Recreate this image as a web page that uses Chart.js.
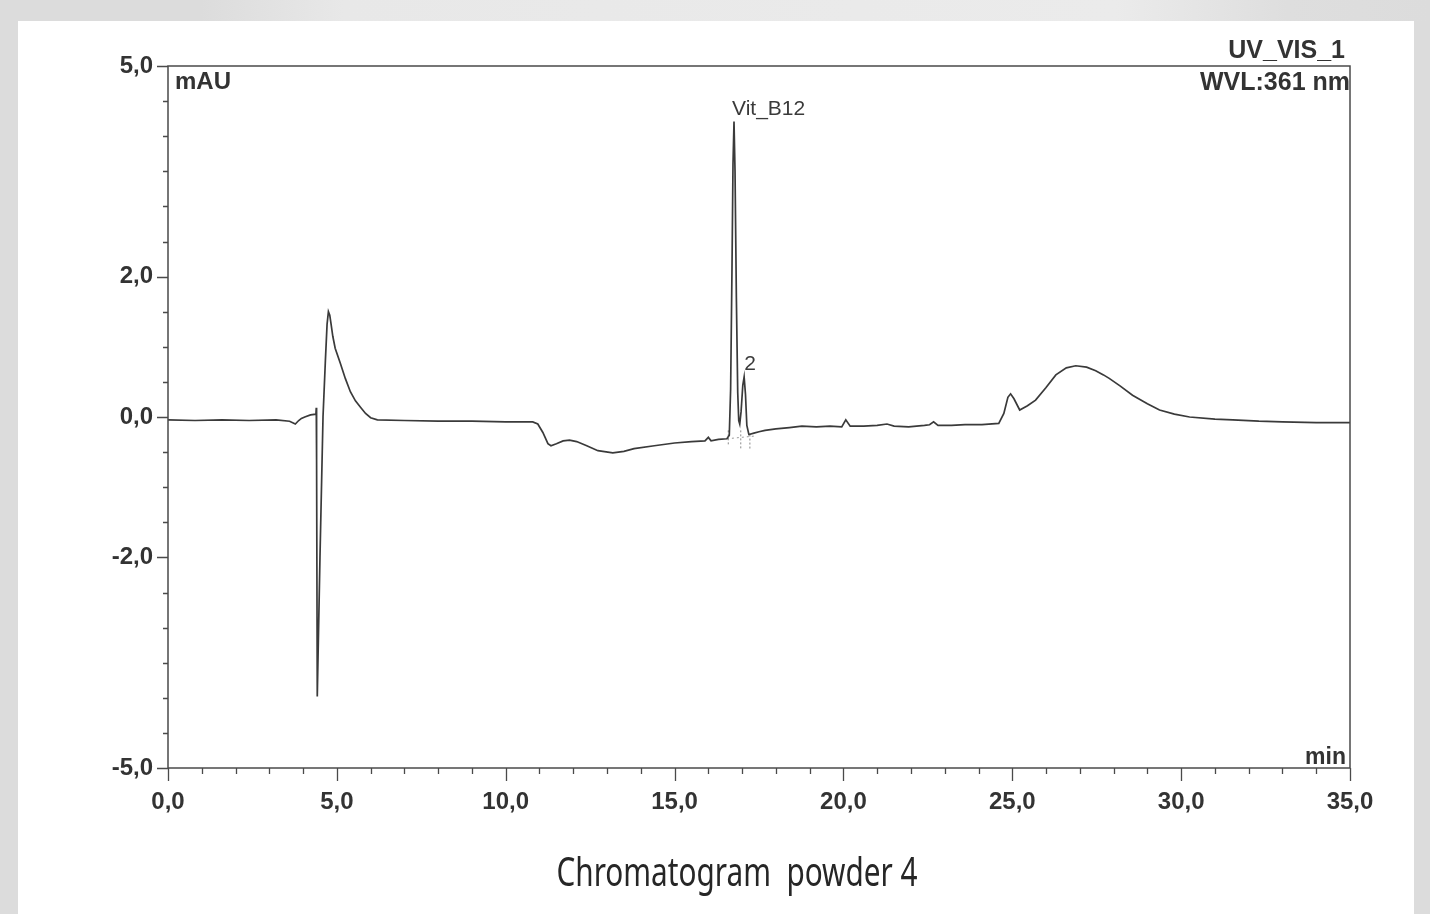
<!DOCTYPE html>
<html>
<head>
<meta charset="utf-8">
<title>Chromatogram powder 4</title>
<script src="https://cdn.jsdelivr.net/npm/chart.js@4.4.1/dist/chart.umd.min.js"></script>
<style>
  html, body { margin: 0; padding: 0; }
  body { width: 1430px; height: 914px; background: #dcdcdc; position: relative; overflow: hidden; }
  #topShade {
    position: absolute; left: 0; top: 0; width: 1430px; height: 21px;
    background: linear-gradient(to right, #dcdcdc 0%, #dcdcdc 14%, #e8e8e8 24%, #ebebeb 78%, #dedede 90%, #dcdcdc 100%);
  }
  #paper { position: absolute; left: 18px; top: 21px; width: 1396px; height: 893px; background: #fff; }
  #wrap { position: absolute; left: 0; top: 0; width: 1430px; height: 914px; }
</style>
</head>
<body>
<div id="topShade"></div>
<div id="paper"></div>
<div id="wrap"><canvas id="chromChart"></canvas></div>
<script>
document.addEventListener('DOMContentLoaded', () => {
    // retention time (min) and signal (mAU)
    const times = [
        0.0, 0.8, 1.6, 2.4, 3.2, 3.6, 3.77, 3.87, 3.95, 4.05, 4.22, 4.38, 4.39, 4.40, 4.42, 4.50,
        4.59, 4.66, 4.71, 4.75, 4.79, 4.83, 4.88, 4.95, 5.1, 5.25, 5.4, 5.55, 5.7, 5.85, 6.0, 6.2, 7.0,
        8.0, 9.0, 10.0, 10.8, 10.95, 11.1, 11.25, 11.34, 11.5, 11.7, 11.89, 12.1, 12.4, 12.73, 13.17, 13.5,
        13.8, 14.4, 15.0, 15.5, 15.9, 16.0, 16.08, 16.3, 16.55, 16.62, 16.66, 16.70, 16.73, 16.76, 16.79, 16.83,
        16.87, 16.90, 16.93, 16.97, 17.02, 17.06, 17.10, 17.14, 17.20, 17.35, 17.5, 17.68, 18.0, 18.4, 18.77, 19.2,
        19.6, 19.95, 20.07, 20.2, 20.6, 21.0, 21.29, 21.5, 21.93, 22.4, 22.55, 22.67, 22.8, 23.2, 23.6, 24.1,
        24.6, 24.75, 24.87, 24.95, 25.05, 25.22, 25.45, 25.69, 26.0, 26.29, 26.6, 26.88, 27.2, 27.47, 27.7, 27.87,
        28.2, 28.56, 29.0, 29.36, 29.8, 30.25, 31.0, 31.53, 32.3, 33.0, 34.0, 35.0
    ];
    const signal = [
        -0.04, -0.05, -0.04, -0.05, -0.04, -0.06, -0.10, -0.05, -0.02, 0.00, 0.03, 0.04, 0.13, -0.60, -3.98, -2.00,
        0.00, 0.80, 1.32, 1.50, 1.45, 1.32, 1.15, 0.98, 0.77, 0.55, 0.36, 0.23, 0.14, 0.05, -0.01, -0.04, -0.05,
        -0.06, -0.06, -0.07, -0.07, -0.10, -0.22, -0.38, -0.41, -0.38, -0.34, -0.33, -0.35, -0.41, -0.48, -0.51, -0.49,
        -0.45, -0.41, -0.37, -0.35, -0.34, -0.29, -0.34, -0.32, -0.31, -0.26, 0.40, 2.10, 3.60, 4.21, 3.50, 1.70,
        0.35, -0.05, -0.10, 0.08, 0.45, 0.57, 0.32, -0.12, -0.25, -0.23, -0.21, -0.19, -0.17, -0.15, -0.13, -0.14,
        -0.13, -0.14, -0.04, -0.13, -0.13, -0.12, -0.10, -0.13, -0.14, -0.12, -0.11, -0.07, -0.12, -0.12, -0.11, -0.11,
        -0.09, 0.05, 0.28, 0.33, 0.26, 0.10, 0.16, 0.24, 0.42, 0.60, 0.70, 0.73, 0.71, 0.66, 0.60, 0.55,
        0.44, 0.31, 0.19, 0.10, 0.04, 0.00, -0.03, -0.04, -0.06, -0.07, -0.08, -0.08
    ];

    // peak integration delimiters
    const markerTimes = [16.59, 16.96, 17.23];
    const markerTop = [-0.19, -0.19, -0.25];
    const markerBottom = [-0.40, -0.47, -0.45];
    const baselineTimes = [16.55, 17.40];
    const baselineValues = [-0.31, -0.27];

    const peakNames = ['Vit_B12', '2'];
    const peakTimes = [16.76, 17.06];
    const peakHeights = [4.21, 0.57];

    const yLabelValues = [5, 2, 0, -2, -5];
    const xMin = 0, xMax = 35, yMin = -5, yMax = 5;

    const fmt = v => v.toFixed(1).replace('.', ',');
    const INK = '#3a3a3a';
    const TICK_FONT = { family: '"Liberation Sans", Arial, sans-serif', size: 24, weight: 'bold' };

    const datasets = [{
        label: 'UV_VIS_1',
        data: times.map((t, i) => ({ x: t, y: signal[i] })),
        borderColor: INK,
        borderWidth: 1.7,
        pointRadius: 0,
        tension: 0
    }];
    markerTimes.forEach((t, i) => {
        datasets.push({
            label: 'delimiter ' + (i + 1),
            data: [{ x: t, y: markerTop[i] }, { x: t, y: markerBottom[i] }],
            borderColor: '#8a8a8a',
            borderWidth: 1,
            borderDash: [2, 2],
            pointRadius: 0
        });
    });
    datasets.push({
        label: 'baseline',
        data: baselineTimes.map((t, i) => ({ x: t, y: baselineValues[i] })),
        borderColor: '#9a9a9a',
        borderWidth: 1,
        borderDash: [2, 3],
        pointRadius: 0
    });

    const chromDecor = {
        id: 'chromDecor',
        afterDraw(chart) {
            const { ctx, chartArea: a, scales: { x, y } } = chart;
            ctx.save();
            ctx.strokeStyle = '#4a4a4a';
            ctx.lineWidth = 1.5;
            ctx.strokeRect(a.left, a.top, a.right - a.left, a.bottom - a.top);

            ctx.lineWidth = 1.3;
            ctx.beginPath();
            x.ticks.forEach(t => {
                const px = Math.round(x.getPixelForValue(t.value)) + 0.5;
                const len = t.value % 5 === 0 ? 13 : 6;
                ctx.moveTo(px, a.bottom);
                ctx.lineTo(px, a.bottom + len);
            });
            y.ticks.forEach(t => {
                const py = Math.round(y.getPixelForValue(t.value)) + 0.5;
                const len = yLabelValues.includes(t.value) ? 11 : 5;
                ctx.moveTo(a.left, py);
                ctx.lineTo(a.left - len, py);
            });
            ctx.stroke();

            ctx.fillStyle = '#333';
            ctx.font = 'bold 24px "Liberation Sans", Arial, sans-serif';
            ctx.textBaseline = 'middle';
            ctx.textAlign = 'left';
            ctx.fillText('mAU', a.left + 7, a.top + 16);
            ctx.font = 'bold 25px "Liberation Sans", Arial, sans-serif';
            ctx.textAlign = 'right';
            ctx.fillText('UV_VIS_1', a.right - 5, a.top - 15);
            ctx.fillText('WVL:361 nm', a.right, a.top + 17);
            ctx.font = 'bold 23px "Liberation Sans", Arial, sans-serif';
            ctx.textBaseline = 'alphabetic';
            ctx.fillText('min', a.right - 4, a.bottom - 4);

            ctx.font = '21px "Liberation Sans", Arial, sans-serif';
            ctx.textBaseline = 'middle';
            ctx.fillStyle = '#3a3a3a';
            ctx.textAlign = 'left';
            ctx.fillText(peakNames[0], x.getPixelForValue(peakTimes[0]) - 2, y.getPixelForValue(peakHeights[0]) - 12);
            ctx.textAlign = 'center';
            ctx.fillText(peakNames[1], x.getPixelForValue(peakTimes[1]) + 6, y.getPixelForValue(peakHeights[1]) - 13);

            ctx.font = '40px "Noto Sans", "Open Sans", sans-serif';
            ctx.fillStyle = '#262626';
            ctx.textBaseline = 'alphabetic';
            ctx.fillText('Chromatogram  powder 4', 737, 886, 361);
            ctx.restore();
        }
    };

    new Chart(document.getElementById('chromChart').getContext('2d'), {
        type: 'line',
        data: { datasets: datasets },
        plugins: [chromDecor],
        options: {
            responsive: true,
            maintainAspectRatio: false,
            animation: false,
            events: [],
            layout: { padding: { left: 0, top: 66, right: 80, bottom: 0 } },
            plugins: {
                legend: { display: false },
                title: { display: false },
                tooltip: { enabled: false }
            },
            scales: {
                x: {
                    type: 'linear',
                    min: xMin,
                    max: xMax,
                    border: { display: false },
                    grid: { drawOnChartArea: false, drawTicks: true, tickLength: 13, tickColor: 'transparent' },
                    ticks: {
                        stepSize: 1,
                        autoSkip: false,
                        maxRotation: 0,
                        padding: 7,
                        color: '#333',
                        font: TICK_FONT,
                        callback: v => (v % 5 === 0 ? fmt(v) : '')
                    },
                    afterFit: s => { s.height = 914 - 768; }
                },
                y: {
                    type: 'linear',
                    min: yMin,
                    max: yMax,
                    border: { display: false },
                    grid: { drawOnChartArea: false, drawTicks: true, tickLength: 11, tickColor: 'transparent' },
                    ticks: {
                        stepSize: 0.5,
                        autoSkip: false,
                        padding: 4,
                        color: '#333',
                        font: TICK_FONT,
                        callback: v => (yLabelValues.includes(v) ? fmt(v) : '')
                    },
                    afterFit: s => { s.width = 168; }
                }
            }
        }
    });
});
</script>
</body>
</html>
